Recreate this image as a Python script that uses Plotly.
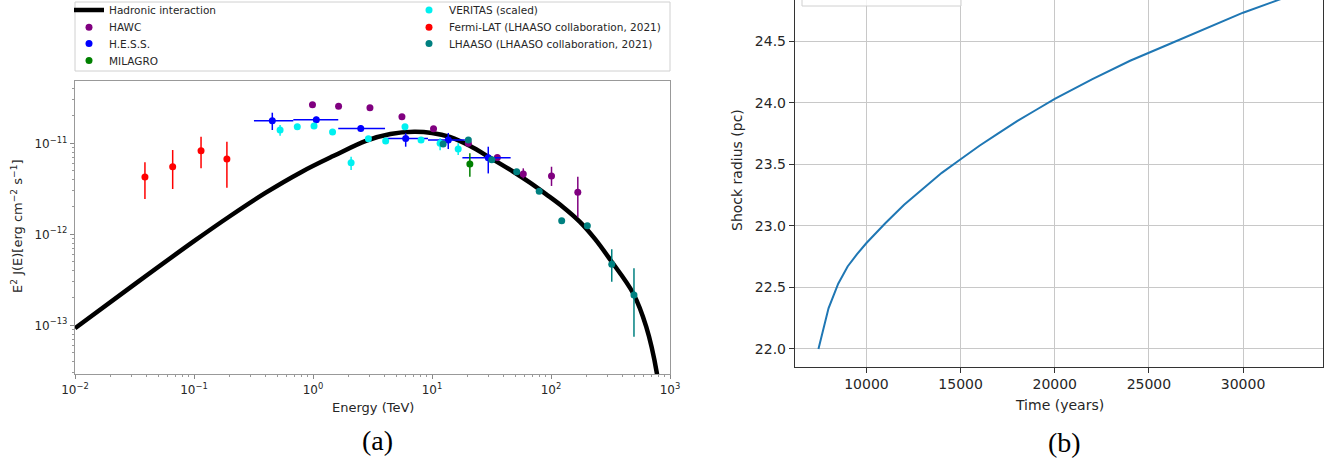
import plotly.graph_objects as go

# ---------------- Panel (a): gamma-ray SED ----------------
model_E = [0.01, 0.0316, 0.1, 0.2, 0.398, 0.794, 1.48, 2.82, 4.47, 7.08, 10.0,
           14.1, 20.9, 30.9, 47.9, 66.1, 91.2, 126, 174, 234, 316, 490, 631, 776, 813]
model_F = [9.27e-14, 2.82e-13, 8.41e-13, 1.58e-12, 2.85e-12, 4.82e-12, 7.24e-12,
           1.072e-11, 1.268e-11, 1.34e-11, 1.30e-11, 1.175e-11, 9.33e-12, 6.92e-12,
           4.90e-12, 3.72e-12, 2.75e-12, 2.0e-12, 1.38e-12, 8.91e-13, 5.22e-13,
           2.25e-13, 9.66e-14, 2.97e-14, 1.78e-14]

hawc_E = [0.99, 1.64, 3.01, 5.59, 10.3, 20.2, 35.4, 58.5, 101, 168]
hawc_F = [2.65e-11, 2.55e-11, 2.46e-11, 1.96e-11, 1.45e-11, 1.0e-11, 6.98e-12,
          4.60e-12, 4.37e-12, 2.90e-12]
hawc_lo = [2.65e-11, 2.55e-11, 2.46e-11, 1.96e-11, 1.45e-11, 1.0e-11, 6.98e-12,
           4.12e-12, 3.40e-12, 1.54e-12]
hawc_hi = [2.65e-11, 2.55e-11, 2.46e-11, 1.96e-11, 1.45e-11, 1.0e-11, 6.98e-12,
           5.31e-12, 5.53e-12, 4.30e-12]

hess_E = [0.455, 1.066, 2.52, 6.01, 13.7, 29.7]
hess_Elo = [0.319, 0.683, 1.63, 4.15, 9.25, 18.0]
hess_Ehi = [0.683, 1.63, 4.03, 9.25, 18.9, 45.8]
hess_F = [1.77e-11, 1.82e-11, 1.46e-11, 1.13e-11, 1.09e-11, 6.95e-12]
hess_lo = [1.40e-11, 1.66e-11, 1.35e-11, 9.18e-12, 8.65e-12, 4.67e-12]
hess_hi = [2.17e-11, 1.96e-11, 1.58e-11, 1.29e-11, 1.30e-11, 9.18e-12]

milagro_E = [20.8]
milagro_F = [5.93e-12]
milagro_lo = [4.30e-12]
milagro_hi = [7.76e-12]

veritas_E = [0.529, 0.738, 1.02, 1.46, 2.09, 2.92, 4.08, 5.93, 8.09, 11.7, 16.6]
veritas_F = [1.40e-11, 1.52e-11, 1.55e-11, 1.33e-11, 6.12e-12, 1.12e-11, 1.06e-11,
             1.52e-11, 1.09e-11, 1.0e-11, 8.65e-12]
veritas_lo = [1.21e-11, 1.52e-11, 1.55e-11, 1.33e-11, 5.09e-12, 1.12e-11, 1.06e-11,
              1.52e-11, 1.09e-11, 8.4e-12, 7.43e-12]
veritas_hi = [1.59e-11, 1.52e-11, 1.55e-11, 1.33e-11, 7.13e-12, 1.12e-11, 1.06e-11,
              1.52e-11, 1.09e-11, 1.14e-11, 1.0e-11]

fermi_E = [0.0387, 0.0662, 0.1146, 0.189]
fermi_F = [4.27e-12, 5.53e-12, 8.29e-12, 6.72e-12]
fermi_lo = [2.44e-12, 3.15e-12, 5.31e-12, 3.25e-12]
fermi_hi = [6.18e-12, 8.44e-12, 1.18e-11, 1.04e-11]

lhaaso_E = [12.4, 20.2, 31.8, 51.5, 79.6, 123, 202, 324, 498]
lhaaso_F = [9.83e-12, 1.09e-11, 6.6e-12, 4.88e-12, 2.98e-12, 1.41e-12, 1.24e-12,
            4.68e-13, 2.15e-13]
lhaaso_lo = [9.83e-12, 1.09e-11, 6.6e-12, 4.88e-12, 2.98e-12, 1.41e-12, 1.24e-12,
             3.01e-13, 7.5e-14]
lhaaso_hi = [9.83e-12, 1.09e-11, 6.6e-12, 4.88e-12, 2.98e-12, 1.41e-12, 1.24e-12,
             6.84e-13, 4.23e-13]

x_tick_vals = [0.01, 0.1, 1, 10, 100, 1000]
x_tick_text = ["10<sup>−2</sup>", "10<sup>−1</sup>", "10<sup>0</sup>",
               "10<sup>1</sup>", "10<sup>2</sup>", "10<sup>3</sup>"]
y_tick_vals = [1e-13, 1e-12, 1e-11]
y_tick_text = ["10<sup>−13</sup>", "10<sup>−12</sup>", "10<sup>−11</sup>"]

# ---------------- Panel (b): shock radius ----------------
time_yr = [7450, 7985, 8500, 9000, 9500, 10000, 11000, 12000, 13000, 14000, 15000,
           16000, 17000, 18000, 19000, 20000, 22000, 24000, 26000, 28000, 30000,
           32000, 33400]
radius_pc = [22.0, 22.33, 22.53, 22.67, 22.77, 22.86, 23.02, 23.17, 23.30, 23.43,
             23.54, 23.65, 23.75, 23.85, 23.94, 24.03, 24.19, 24.34, 24.47, 24.60,
             24.73, 24.84, 24.91]
time_ticks = [10000, 15000, 20000, 25000, 30000]
radius_ticks = [22.0, 22.5, 23.0, 23.5, 24.0, 24.5]

# ---------------- helpers ----------------
W, H = 1340, 464
FONT = "DejaVu Sans"
TXT = "#262626"


def px(p):
    return p / W


def py(p):
    return 1 - p / H


def errs(vals, lo, hi):
    return [h - v for v, h in zip(vals, hi)], [v - l for v, l in zip(vals, lo)]


fig = go.Figure()

fig.add_trace(go.Scatter(x=model_E, y=model_F, mode="lines", name="Hadronic interaction",
                         line=dict(color="black", width=4.5, shape="spline", smoothing=1.0),
                         xaxis="x", yaxis="y", legend="legend"))


def add_points(name, E, F, lo, hi, color, leg, Elo=None, Ehi=None):
    plus, minus = errs(F, lo, hi)
    kw = {}
    if Elo is not None:
        xp, xm = errs(E, Elo, Ehi)
        kw["error_x"] = dict(type="data", array=xp, arrayminus=xm, symmetric=False,
                             color=color, thickness=1.5, width=0)
    fig.add_trace(go.Scatter(
        x=E, y=F, mode="markers", name=name,
        marker=dict(color=color, size=7, line=dict(width=0)),
        error_y=dict(type="data", array=plus, arrayminus=minus, symmetric=False,
                     color=color, thickness=1.5, width=0),
        xaxis="x", yaxis="y", legend=leg, **kw))


add_points("HAWC", hawc_E, hawc_F, hawc_lo, hawc_hi, "#800080", "legend2")
add_points("H.E.S.S.", hess_E, hess_F, hess_lo, hess_hi, "#0000ff", "legend3",
           hess_Elo, hess_Ehi)
add_points("MILAGRO", milagro_E, milagro_F, milagro_lo, milagro_hi, "#008000", "legend4")
add_points("VERITAS (scaled)", veritas_E, veritas_F, veritas_lo, veritas_hi, "#00f0f0", "legend5")
add_points("Fermi-LAT (LHAASO collaboration, 2021)", fermi_E, fermi_F, fermi_lo, fermi_hi,
           "#ff0000", "legend6")
add_points("LHAASO (LHAASO collaboration, 2021)", lhaaso_E, lhaaso_F, lhaaso_lo, lhaaso_hi,
           "#008080", "legend7")

fig.add_trace(go.Scatter(x=time_yr, y=radius_pc, mode="lines", showlegend=False,
                         line=dict(color="#1f77b4", width=2), xaxis="x2", yaxis="y2"))

minor_x = [m * 10.0 ** k for k in range(-2, 3) for m in range(2, 10)]
minor_y = [m * 10.0 ** k for k in range(-14, -10) for m in range(2, 10)]

legend_rows = [("legend", 69, 10), ("legend2", 69, 27.3), ("legend3", 69, 43.5),
               ("legend4", 69, 60.5), ("legend5", 409, 10), ("legend6", 409, 27.3),
               ("legend7", 409, 43.5)]
legend_layout = {}
for key, lx, ly in legend_rows:
    legend_layout[key] = dict(x=px(lx), y=py(ly), xanchor="left", yanchor="middle",
                              bgcolor="rgba(0,0,0,0)", borderwidth=0,
                              font=dict(family=FONT, size=10.5, color=TXT))


def label(text, x, y, size, family=FONT, color=TXT, angle=0):
    return dict(text=text, x=px(x), y=py(y), xref="paper", yref="paper",
                xanchor="center", yanchor="middle", showarrow=False, textangle=angle,
                font=dict(size=size, family=family, color=color))


fig.update_layout(
    width=W, height=H, margin=dict(l=0, r=0, t=0, b=0, autoexpand=False),
    paper_bgcolor="white", plot_bgcolor="white",
    font=dict(family=FONT, color=TXT),
    xaxis=dict(type="log", range=[-2, 3], domain=[px(75), px(670)], anchor="y",
               tickvals=x_tick_vals, ticktext=x_tick_text, ticks="outside", ticklen=4,
               tickcolor="#888", tickfont=dict(size=12, color=TXT), showline=True,
               linecolor="#999", linewidth=1.3, mirror=True, showgrid=False, zeroline=False,
               minor=dict(tickmode="array", tickvals=minor_x, ticks="outside", ticklen=2,
                          tickcolor="#999", showgrid=False)),
    yaxis=dict(type="log", range=[-13.535, -10.315], domain=[py(374), py(81)], anchor="x",
               tickvals=y_tick_vals, ticktext=y_tick_text, ticks="outside", ticklen=4,
               tickcolor="#888", tickfont=dict(size=12, color=TXT), showline=True,
               linecolor="#999", linewidth=1.3, mirror=True, showgrid=False, zeroline=False,
               minor=dict(tickmode="array", tickvals=minor_y, ticks="outside", ticklen=2,
                          tickcolor="#999", showgrid=False)),
    xaxis2=dict(range=[6205, 34246], domain=[px(795), px(1323)], anchor="y2",
                tickvals=time_ticks, tickformat="d", ticks="outside", ticklen=5,
                tickcolor="#333", tickfont=dict(size=14, color=TXT), showline=True,
                linecolor="#333", linewidth=1.4, mirror=False, showgrid=True,
                gridcolor="#c8c8c8", gridwidth=1, zeroline=False, ticklabelstandoff=-1),
    yaxis2=dict(range=[21.856, 24.833], domain=[py(366.7), 1], anchor="x2",
                tickvals=radius_ticks, tickformat=".1f",
                ticks="outside", ticklen=5, tickcolor="#333",
                tickfont=dict(size=14, color=TXT), showline=True, linecolor="#333",
                linewidth=1.4, mirror=True, showgrid=True, gridcolor="#c8c8c8",
                gridwidth=1, zeroline=False),
    **legend_layout,
    shapes=[
        dict(type="rect", xref="paper", yref="paper", x0=px(75), x1=px(670),
             y0=py(71), y1=py(2), line=dict(color="#d0d0d0", width=1),
             fillcolor="rgba(0,0,0,0)", layer="below"),
        dict(type="rect", xref="paper", yref="paper", x0=px(802), x1=px(961),
             y0=py(6), y1=py(-6), line=dict(color="#d0d0d0", width=1),
             fillcolor="rgba(255,255,255,0.8)", layer="above"),
    ],
    annotations=[
        label("Energy (TeV)", 372.5, 407, 13),
        label("E<sup>2</sup> J(E)[erg cm<sup>−2</sup> s<sup>−1</sup>]", 17, 226, 13,
              angle=-90),
        label("Time (years)", 1059, 405, 14),
        label("Shock radius (pc)", 737, 170, 14, angle=-90),
        label("(a)", 377, 440, 28, family="Liberation Serif", color="black"),
        label("(b)", 1064, 442, 28, family="Liberation Serif", color="black"),
    ],
)

fig.write_html("out.html", config={"displayModeBar": False},
               post_script="document.body.style.margin='0px';")
